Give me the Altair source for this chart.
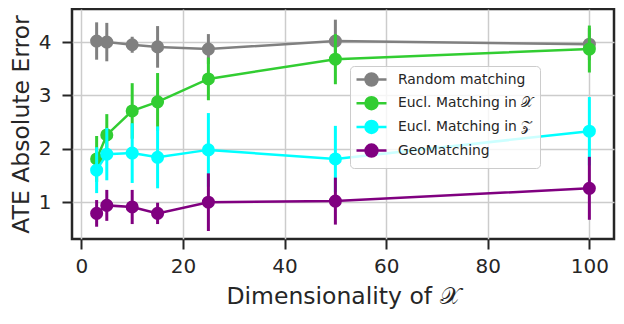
import altair as alt
import pandas as pd

dims = [3, 5, 10, 15, 25, 50, 100]
series_names = ["Random matching", "Eucl. Matching in 𝒳", "Eucl. Matching in 𝒵", "GeoMatching"]
series_colors = ["#808080", "#32cd32", "#00ffff", "#800080"]

random_mean = [4.02, 4.00, 3.95, 3.91, 3.87, 4.02, 3.96]
random_err = [0.35, 0.36, 0.15, 0.39, 0.28, 0.40, 0.30]
euclx_mean = [1.81, 2.26, 2.71, 2.88, 3.31, 3.68, 3.87]
euclx_err = [0.43, 0.39, 0.52, 0.54, 0.40, 0.47, 0.44]
euclz_mean = [1.60, 1.90, 1.92, 1.84, 1.98, 1.81, 2.33]
euclz_err = [0.43, 0.49, 0.56, 0.58, 0.69, 0.62, 0.64]
geo_mean = [0.79, 0.94, 0.91, 0.79, 1.00, 1.02, 1.26]
geo_err = [0.25, 0.29, 0.32, 0.20, 0.54, 0.44, 0.59]

means = [random_mean, euclx_mean, euclz_mean, geo_mean]
errs = [random_err, euclx_err, euclz_err, geo_err]

TEXT = "#262626"
FONT = "DejaVu Sans"

color = alt.Color(
    "series:N",
    scale=alt.Scale(domain=series_names, range=series_colors),
    legend=alt.Legend(
        title=None,
        orient="none",
        legendX=278,
        legendY=57,
        symbolType="M-2.5,0L2.5,0M1,0A1,1 0 1 1 -1,0A1,1 0 1 1 1,0Z",
        symbolSize=144,
        symbolStrokeWidth=2.5,
        symbolOffset=8,
        labelFontSize=13.9,
        labelFont=FONT,
        labelColor=TEXT,
        labelOffset=19,
        labelLimit=300,
        rowPadding=0.7,
        padding=6,
        fillColor="rgba(255,255,255,0.8)",
        strokeColor="#cccccc",
        cornerRadius=4,
    ),
)

ydom = alt.Scale(domain=[0.31, 4.62], nice=False, zero=False)
xenc = alt.X(
    "dim:Q",
    scale=alt.Scale(domain=[-1.85, 104.85], nice=False, zero=False),
    axis=alt.Axis(values=[0, 20, 40, 60, 80, 100], title="Dimensionality of 𝒳",
                  labelPadding=7, titlePadding=8),
)
yenc = alt.Y(
    "mean:Q",
    scale=ydom,
    axis=alt.Axis(values=[1, 2, 3, 4], title="ATE Absolute Error",
                  labelPadding=11, titlePadding=5),
)

layers = []
for name, m, e in zip(series_names, means, errs):
    df = pd.DataFrame({
        "dim": dims,
        "mean": m,
        "lo": [a - b for a, b in zip(m, e)],
        "hi": [a + b for a, b in zip(m, e)],
        "series": name,
    })
    base = alt.Chart(df)
    rule = base.mark_rule(strokeWidth=3).encode(
        x=xenc, y=alt.Y("lo:Q", scale=ydom), y2="hi:Q", color=color,
    )
    line = base.mark_line(strokeWidth=2.5).encode(x=xenc, y=yenc, color=color)
    pts = base.mark_circle(size=170, opacity=1).encode(x=xenc, y=yenc, color=color)
    layers += [rule, line, pts]

chart = alt.layer(*layers).properties(
    width=542,
    height=230,
    autosize=alt.AutoSizeParams(type="none"),
    padding={"left": 64, "top": 1, "right": 2, "bottom": 77},
).configure_view(
    stroke=TEXT, strokeWidth=2.5
).configure_axis(
    domain=False,
    grid=True,
    gridColor="#cccccc",
    gridWidth=1.5,
    tickColor=TEXT,
    tickSize=10,
    tickWidth=2,
    labelFont=FONT,
    labelFontSize=20,
    labelColor=TEXT,
    titleFont=FONT,
    titleFontSize=23.5,
    titleFontWeight="normal",
    titleColor=TEXT,
)

chart.save("out.html", embed_options={"renderer": "svg", "actions": False})
